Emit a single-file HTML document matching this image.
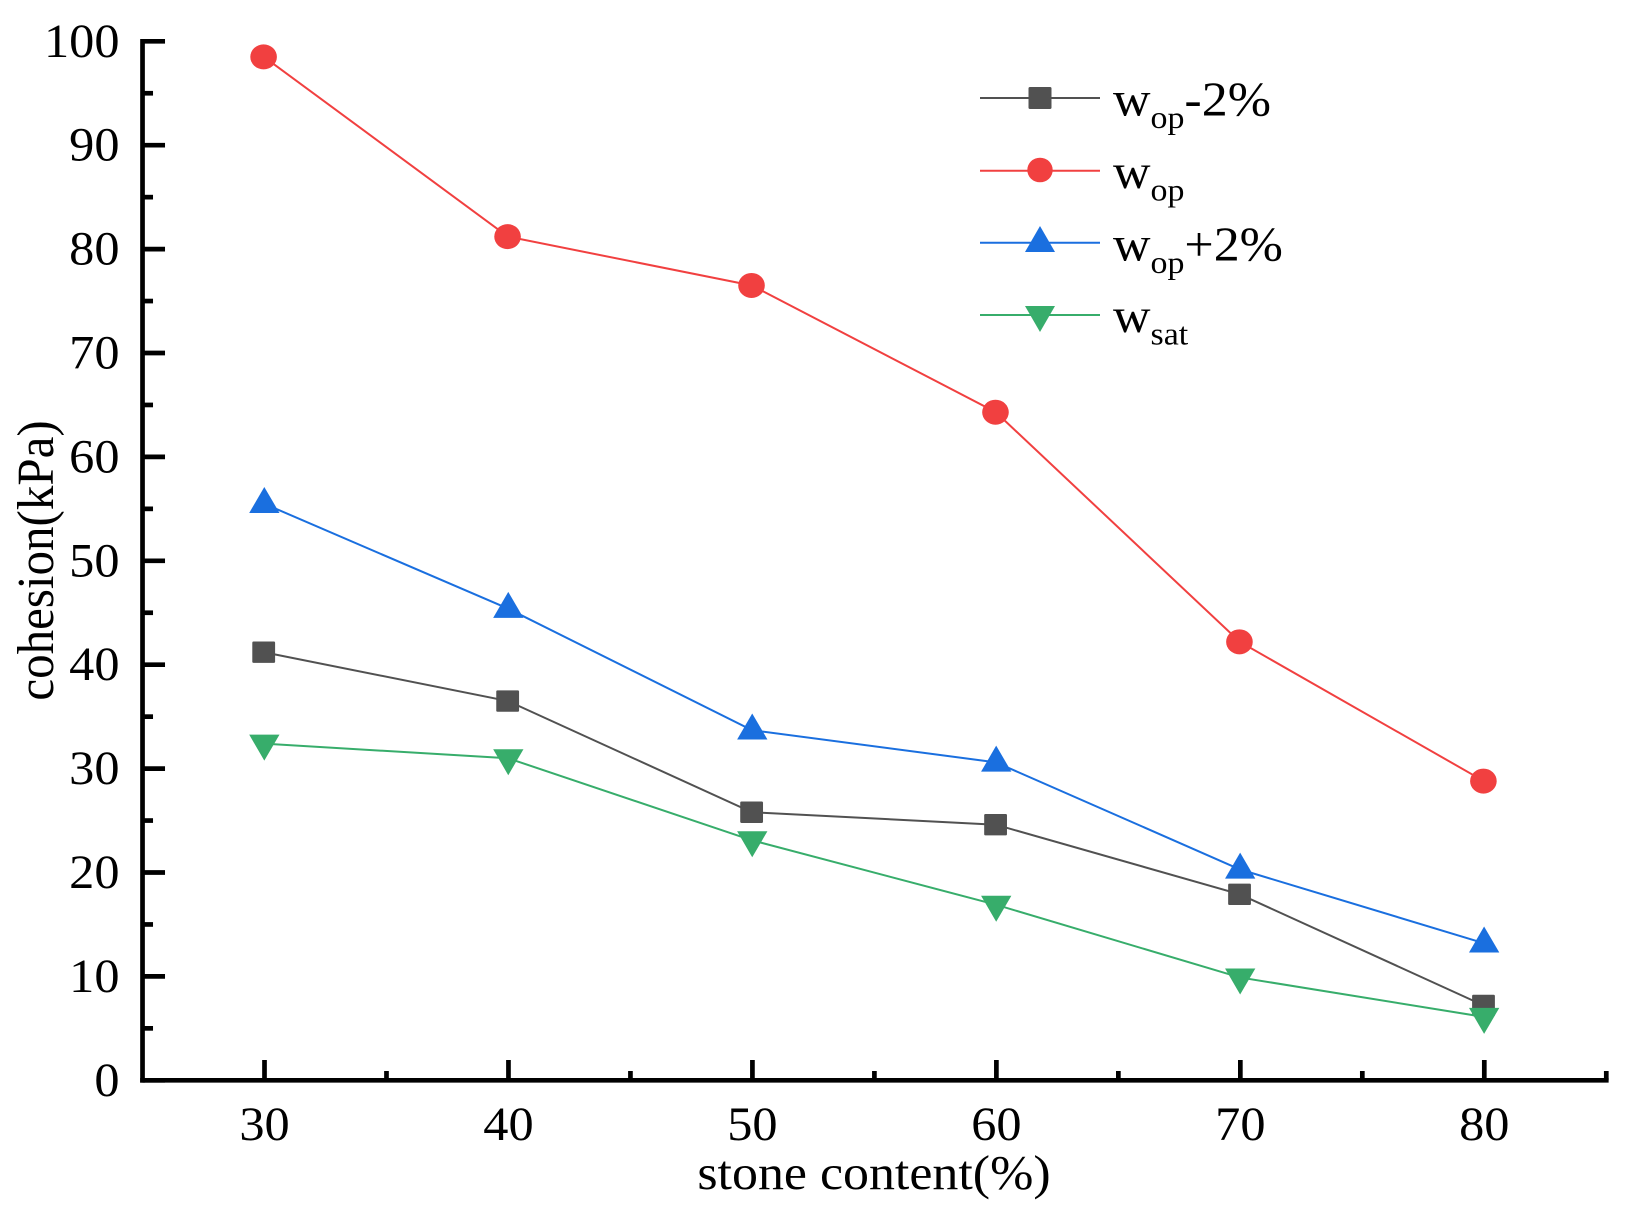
<!DOCTYPE html>
<html lang="en">
<head>
<meta charset="utf-8">
<title>Cohesion vs stone content</title>
<style>
html,body{margin:0;padding:0;background:#fff;}
svg{display:block;}
text{font-family:"Liberation Serif",serif;fill:#000;}
</style>
</head>
<body>
<svg id="chart" xmlns="http://www.w3.org/2000/svg" width="1633" height="1222" viewBox="0 0 1633 1222">
  <rect x="0" y="0" width="1633" height="1222" fill="#ffffff"/>
  <g id="axes"></g>
  <g id="series"></g>

  <text transform="translate(874,1189) scale(1.06,1)" text-anchor="middle" font-size="49">stone content(%)</text>
  <text transform="translate(53,560.5) scale(1.06,1) rotate(-90)" text-anchor="middle" font-size="49">cohesion(kPa)</text>

  <g>
    <g>
      <line x1="980" x2="1100" y1="98" y2="98" stroke="#515151" stroke-width="2"/>
      <rect x="1028.5" y="87" width="23" height="22" rx="1.5" fill="#515151"/>
      <text transform="translate(1113,115.7) scale(1.06,1)" font-size="49">w<tspan font-size="32" dy="12.3">op</tspan><tspan font-size="49" dy="-12.3">-2%</tspan></text>
    </g>
    <g>
      <line x1="980" x2="1100" y1="170.7" y2="170.7" stroke="#F14040" stroke-width="2"/>
      <ellipse cx="1040" cy="170" rx="12.7" ry="12.3" fill="#F14040"/>
      <text transform="translate(1113,188) scale(1.06,1)" font-size="49">w<tspan font-size="32" dy="12.3">op</tspan></text>
    </g>
    <g>
      <line x1="980" x2="1100" y1="242.7" y2="242.7" stroke="#1A6FDF" stroke-width="2"/>
      <polygon points="1025,252 1055,252 1040,226" fill="#1A6FDF"/>
      <text transform="translate(1113,260.5) scale(1.06,1)" font-size="49">w<tspan font-size="32" dy="12.3">op</tspan><tspan font-size="49" dy="-12.3">+2%</tspan></text>
    </g>
    <g>
      <line x1="980" x2="1100" y1="315" y2="315" stroke="#37AD6B" stroke-width="2"/>
      <polygon points="1025,306 1055,306 1040,332" fill="#37AD6B"/>
      <text transform="translate(1113,332) scale(1.06,1)" font-size="49">w<tspan font-size="32" dy="12.3">sat</tspan></text>
    </g>
  </g>
</svg>
<script>
var categories = [30, 40, 50, 60, 70, 80];
var wopMinus2 = [41.2, 36.5, 25.8, 24.6, 17.9, 7.2];
var wop = [98.5, 81.2, 76.5, 64.3, 42.2, 28.8];
var wopPlus2 = [55.5, 45.4, 33.7, 30.6, 20.3, 13.2];
var wsat = [32.4, 31.0, 23.1, 16.9, 9.9, 6.1];
var xMajorTicks = [30, 40, 50, 60, 70, 80];
var xMinorTicks = [35, 45, 55, 65, 75, 85];
var yMajorTicks = [0, 10, 20, 30, 40, 50, 60, 70, 80, 90, 100];
var yMinorTicks = [5, 15, 25, 35, 45, 55, 65, 75, 85, 95];

var NS = 'http://www.w3.org/2000/svg';
function xScale(v) { return 264.5 + (v - 30) * 24.396; }
function yScale(v) { return 1080.3 - v * 10.39; }

function make(tag, attrs, parent) {
  var el = document.createElementNS(NS, tag);
  for (var k in attrs) { el.setAttribute(k, attrs[k]); }
  parent.appendChild(el);
  return el;
}

var axes = document.getElementById('axes');
var seriesLayer = document.getElementById('series');
var AXIS_W = 4.7;

var yAxisLine = make('line', {x1: xScale(25), x2: xScale(25), y1: yScale(100) - 2.35, y2: yScale(0) + 2.35, stroke: '#000', 'stroke-width': AXIS_W}, axes);



var xAxisLine = make('line', {x1: xScale(25) - 2.35, x2: xScale(85) + 2.35, y1: yScale(0), y2: yScale(0), stroke: '#000', 'stroke-width': AXIS_W}, axes);



yMajorTicks.forEach(function (v) {
  var t = make('line', {x1: xScale(25), x2: xScale(25) + 22.5, y1: yScale(v), y2: yScale(v), stroke: '#000', 'stroke-width': AXIS_W}, axes);
  
  
  var lab = make('text', {transform: 'translate(119.5,' + (yScale(v) + 15.5) + ') scale(1.06,1)', 'text-anchor': 'end', 'font-size': 47.5}, axes);
  lab.textContent = String(v);
  
  
});

yMinorTicks.forEach(function (v) {
  var t = make('line', {x1: xScale(25), x2: xScale(25) + 10.5, y1: yScale(v), y2: yScale(v), stroke: '#000', 'stroke-width': AXIS_W}, axes);
  
  
});

xMajorTicks.forEach(function (v) {
  var t = make('line', {x1: xScale(v), x2: xScale(v), y1: yScale(0), y2: yScale(0) - 20.3, stroke: '#000', 'stroke-width': AXIS_W}, axes);
  
  
  var lab = make('text', {transform: 'translate(' + xScale(v) + ',1140) scale(1.06,1)', 'text-anchor': 'middle', 'font-size': 47.5}, axes);
  lab.textContent = String(v);
  
  
});

xMinorTicks.forEach(function (v) {
  var t = make('line', {x1: xScale(v), x2: xScale(v), y1: yScale(0), y2: yScale(0) - 9.3, stroke: '#000', 'stroke-width': AXIS_W}, axes);
  
  
});

function drawSeries(values, color, shape, name) {
  var pts = values.map(function (v, i) { return (xScale(categories[i]) - 0.5) + ',' + yScale(v); }).join(' ');
  var line = make('polyline', {points: pts, fill: 'none', stroke: color, 'stroke-width': 2}, seriesLayer);
  
  
  values.forEach(function (v, i) {
    var cx = xScale(categories[i]), cy = yScale(v), m;
    if (shape === 'square') {
      m = make('rect', {x: cx - 12.2, y: cy - 10.7, width: 22.8, height: 21.4, rx: 1.2, fill: color}, seriesLayer);
    } else if (shape === 'circle') {
      m = make('ellipse', {cx: cx - 0.9, cy: cy, rx: 13.3, ry: 12.5, fill: color}, seriesLayer);
    } else if (shape === 'up') {
      m = make('polygon', {points: (cx - 15.3) + ',' + (cy + 9.3) + ' ' + (cx + 15) + ',' + (cy + 9.3) + ' ' + (cx - 0.2) + ',' + (cy - 16.7), fill: color}, seriesLayer);
    } else {
      m = make('polygon', {points: (cx - 15.3) + ',' + (cy - 9) + ' ' + (cx + 15) + ',' + (cy - 9) + ' ' + (cx - 0.2) + ',' + (cy + 17), fill: color}, seriesLayer);
    }
    
    
  });
}

drawSeries(wopMinus2, '#515151', 'square', 'wop-minus-2');
drawSeries(wop, '#F14040', 'circle', 'wop');
drawSeries(wopPlus2, '#1A6FDF', 'up', 'wop-plus-2');
drawSeries(wsat, '#37AD6B', 'down', 'wsat');
</script>
</body>
</html>
